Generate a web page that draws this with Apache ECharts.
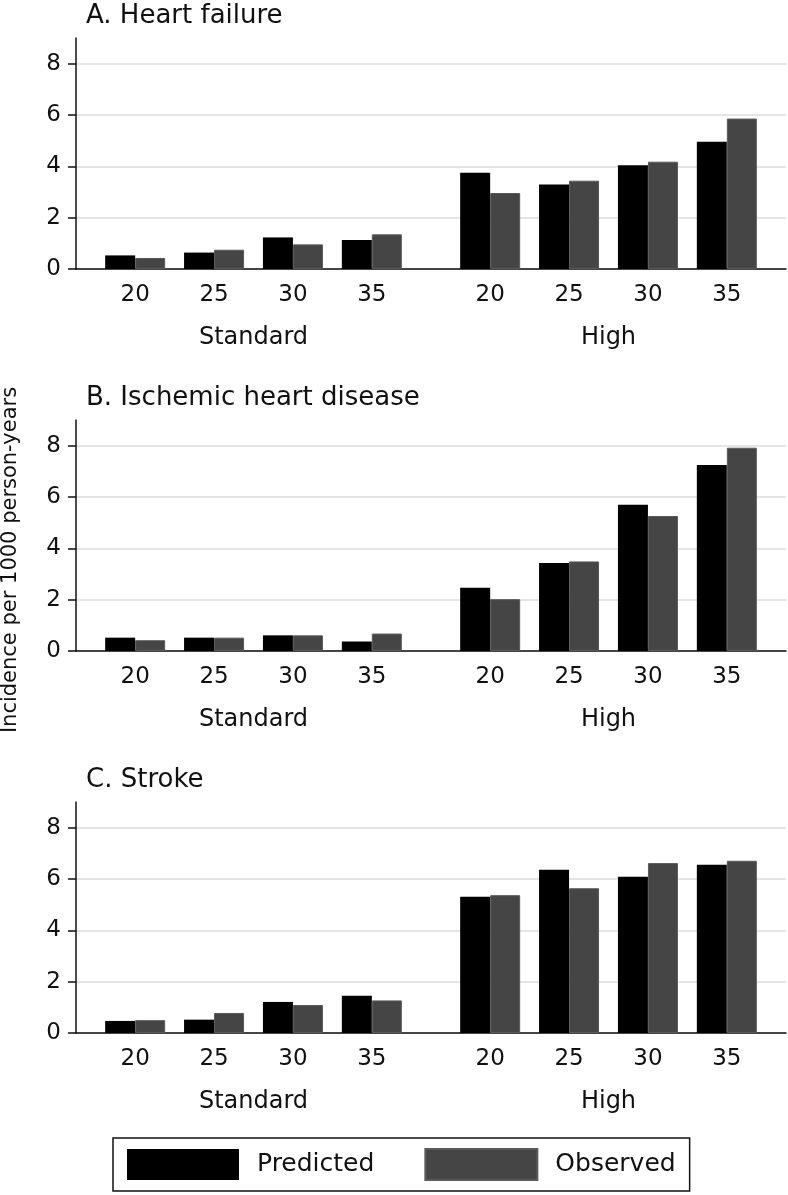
<!DOCTYPE html>
<html lang="en">
  <head>
    <meta charset="UTF-8" />
    <title>Incidence bars</title>
    <script src="https://cdn.jsdelivr.net/npm/echarts@6/dist/echarts.min.js"></script>
    <style>
      * {
        margin: 0;
        padding: 0;
      }
      html,
      body {
        background: #fff;
      }
    </style>
  </head>
  <body>
    <div id="charts" style="width: 788px; height: 1195px"></div>
    <script>
      var ageGroups = ["20", "25", "30", "35"];
      var riskGroups = ["Standard", "High"];
      var panelTitles = ["A. Heart failure", "B. Ischemic heart disease", "C. Stroke"];
      var yTicks = [0, 2, 4, 6, 8];

      var hfPredicted = [0.53, 0.64, 1.23, 1.13, 3.75, 3.29, 4.04, 4.96];
      var hfObserved = [0.43, 0.75, 0.96, 1.35, 2.96, 3.44, 4.18, 5.86];
      var ihdPredicted = [0.52, 0.52, 0.61, 0.37, 2.46, 3.43, 5.7, 7.25];
      var ihdObserved = [0.42, 0.52, 0.61, 0.68, 2.02, 3.49, 5.26, 7.92];
      var strokePredicted = [0.47, 0.52, 1.21, 1.45, 5.31, 6.36, 6.09, 6.56];
      var strokeObserved = [0.5, 0.78, 1.09, 1.27, 5.37, 5.64, 6.62, 6.71];

      var predictedSets = [hfPredicted, ihdPredicted, strokePredicted];
      var observedSets = [hfObserved, ihdObserved, strokeObserved];

      // axis is split in 18 narrow slots so the two groups get a wider gap
      var SLOTS = 18;
      function slotOf(g, i) {
        return (g === 0 ? 1 : 10) + 2 * i;
      }
      var ageSlots = [];
      var groupSlots = [];
      for (var s = 0; s < SLOTS; s++) {
        ageSlots.push("");
        groupSlots.push("");
      }
      riskGroups.forEach(function (grp, g) {
        ageGroups.forEach(function (a, i) {
          ageSlots[slotOf(g, i)] = a;
        });
      });
      groupSlots[4] = riskGroups[0];
      groupSlots[13] = riskGroups[1];

      function toSlots(vals) {
        var out = [];
        for (var s = 0; s < SLOTS; s++) out.push("-");
        vals.forEach(function (v, k) {
          out[slotOf(Math.floor(k / 4), k % 4)] = v;
        });
        return out;
      }

      var font = "DejaVu Sans";
      var tops = [38, 420, 802];
      var grids = [], xAxes = [], yAxes = [], series = [], titles = [];

      tops.forEach(function (top, p) {
        titles.push({
          text: panelTitles[p],
          left: 86,
          top: top - 35,
          padding: 0,
          textStyle: { fontFamily: font, fontSize: 26, fontWeight: "normal", color: "#111" },
        });
        grids.push({ left: 76, right: 2, top: top, height: 231 });
        xAxes.push({
          type: "category",
          gridIndex: p,
          position: "bottom",
          data: ageSlots,
          axisLine: { lineStyle: { color: "#111", width: 1.5 } },
          axisTick: { show: false },
          axisLabel: { interval: 0, margin: 15, fontSize: 23, color: "#111", fontFamily: font },
          splitLine: { show: false },
        });
        xAxes.push({
          type: "category",
          gridIndex: p,
          position: "bottom",
          data: groupSlots,
          axisLine: { show: false },
          axisTick: { show: false },
          axisLabel: { interval: 0, margin: 57, fontSize: 24, color: "#111", fontFamily: font },
          splitLine: { show: false },
        });
        yAxes.push({
          type: "value",
          gridIndex: p,
          min: 0,
          max: 9,
          interval: 2,
          axisLine: { show: true, lineStyle: { color: "#111", width: 1.5 } },
          axisTick: { show: true, length: 8, customValues: yTicks, lineStyle: { color: "#111", width: 1.5 } },
          axisLabel: { margin: 15, fontSize: 23, color: "#111", fontFamily: font, customValues: yTicks },
          splitLine: { show: true, lineStyle: { color: "#dcdcdc", width: 1.5 } },
        });
        series.push({
          name: "Predicted",
          type: "bar",
          xAxisIndex: p * 2,
          yAxisIndex: p,
          barWidth: 30,
          barGap: "0%",
          itemStyle: { color: "#000" },
          data: toSlots(predictedSets[p]),
        });
        series.push({
          name: "Observed",
          type: "bar",
          xAxisIndex: p * 2,
          yAxisIndex: p,
          barWidth: 30,
          barGap: "0%",
          itemStyle: { color: "#454545", borderColor: "#5a5a5a", borderWidth: 1 },
          data: toSlots(observedSets[p]),
        });
      });

      var myEcharts = echarts.init(document.getElementById("charts"));
      var options = {
        animation: false,
        textStyle: { fontFamily: font },
        title: titles,
        grid: grids,
        xAxis: xAxes,
        yAxis: yAxes,
        series: series,
        legend: {
          data: ["Predicted", "Observed"],
          left: 113,
          top: 1138,
          padding: [10, 14, 10, 14],
          itemGap: 50,
          itemWidth: 112,
          itemHeight: 31,
          icon: "rect",
          borderColor: "#111",
          borderWidth: 1.5,
          textStyle: { fontFamily: font, fontSize: 25, color: "#111", padding: [0, 0, 0, 13] },
        },
        graphic: [
          {
            type: "text",
            x: 11,
            y: 560,
            rotation: Math.PI / 2,
            style: {
              text: "Incidence per 1000 person-years",
              font: "21px 'DejaVu Sans'",
              fill: "#111",
              textAlign: "center",
              textVerticalAlign: "middle",
            },
          },
        ],
      };
      myEcharts.setOption(options);
    </script>
  </body>
</html>
